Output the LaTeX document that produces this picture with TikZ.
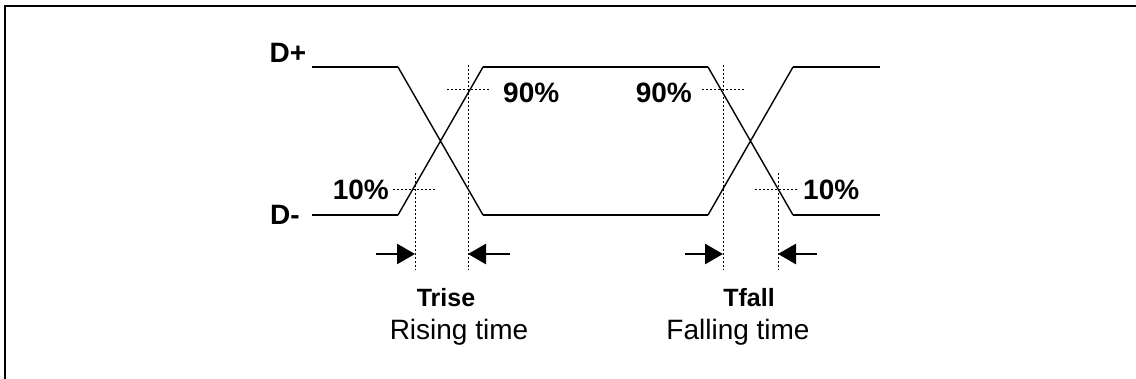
\documentclass[tikz,border=0pt]{standalone}
\usepackage{fontspec}
\setmainfont{Liberation Sans}
\usetikzlibrary{arrows.meta}
\begin{document}
\begin{tikzpicture}[x=1pt,y=-1pt]
  \tikzstyle{level}=[line width=2.8pt]
  \tikzstyle{slope}=[line width=1.4pt]
  \tikzstyle{guide}=[line width=1pt,dash pattern=on 2pt off 2pt]
  \tikzstyle{pct}=[inner sep=0,font=\fontsize{28}{30}\selectfont\bfseries]
  \tikzstyle{sig}=[inner sep=0,font=\fontsize{28}{30}\selectfont\bfseries]
  \tikzstyle{tname}=[inner sep=0,font=\fontsize{25}{27}\selectfont\bfseries]
  \tikzstyle{tdesc}=[inner sep=0,font=\fontsize{28}{30}\selectfont]
  \tikzstyle{meas}=[line width=2.7pt,-{Triangle[length=18pt,width=20pt]}]

  \useasboundingbox (0,0) rectangle (1136,379);
  \draw[line width=2.6pt] (5,379) -- (5,6) -- (1136,6);

  % signal corners
  \coordinate (hs) at (312,67);  \coordinate (he) at (880,67);
  \coordinate (ls) at (312,215); \coordinate (le) at (880,215);
  \coordinate (a1) at (398,67);  \coordinate (a2) at (483,67);
  \coordinate (a3) at (708,67);  \coordinate (a4) at (793,67);
  \coordinate (b1) at (398,215); \coordinate (b2) at (483,215);
  \coordinate (b3) at (708,215); \coordinate (b4) at (793,215);

  \node[sig] (dp) at (288,53) {D+};
  \node[sig] (dm) at (285,215) {D-};

  \draw[level] (hs) -- (a1) (a2) -- (a3) (a4) -- (he);
  \draw[level] (ls) -- (b1) (b2) -- (b3) (b4) -- (le);
  \draw[slope] (a1) -- (b2) (b1) -- (a2);
  \draw[slope] (a3) -- (b4) (b3) -- (a4);

  % guide lines
  \coordinate (v1t) at (415,173); \coordinate (v1b) at (415,270);
  \coordinate (v2t) at (468,65);  \coordinate (v2b) at (468,270);
  \coordinate (v3t) at (723,65);  \coordinate (v3b) at (723,270);
  \coordinate (v4t) at (778,173); \coordinate (v4b) at (778,270);
  \draw[guide] (v1t) -- (v1b) (v2t) -- (v2b) (v3t) -- (v3b) (v4t) -- (v4b);

  \node[pct,anchor=east] (lo1) at (389,190) {10\%};
  \node[pct,anchor=west] (hi1) at (503,93) {90\%};
  \node[pct,anchor=east] (hi2) at (692,93) {90\%};
  \node[pct,anchor=west] (lo2) at (803,190) {10\%};
  \draw[guide] (393,190) -- (435,190) (447,90) -- (490,90);
  \draw[guide] (702,90) -- (745,90) (755,190) -- (798,190);

  % measuring arrows
  \coordinate (r1) at (376,254); \coordinate (r2) at (415,254);
  \coordinate (r3) at (510,254); \coordinate (r4) at (468,254);
  \coordinate (f1) at (685,254); \coordinate (f2) at (723,254);
  \coordinate (f3) at (817,254); \coordinate (f4) at (778,254);
  \draw[meas] (r1) -- (r2);
  \draw[meas] (r3) -- (r4);
  \draw[meas] (f1) -- (f2);
  \draw[meas] (f3) -- (f4);

  \node[tname] (trise) at (446,298) {Trise};
  \node[tname] (tfall) at (749,298) {Tfall};
  \node[tdesc] (rise) at (459,332) {Rising time};
  \node[tdesc] (fall) at (738,332) {Falling time};
\end{tikzpicture}
\end{document}
